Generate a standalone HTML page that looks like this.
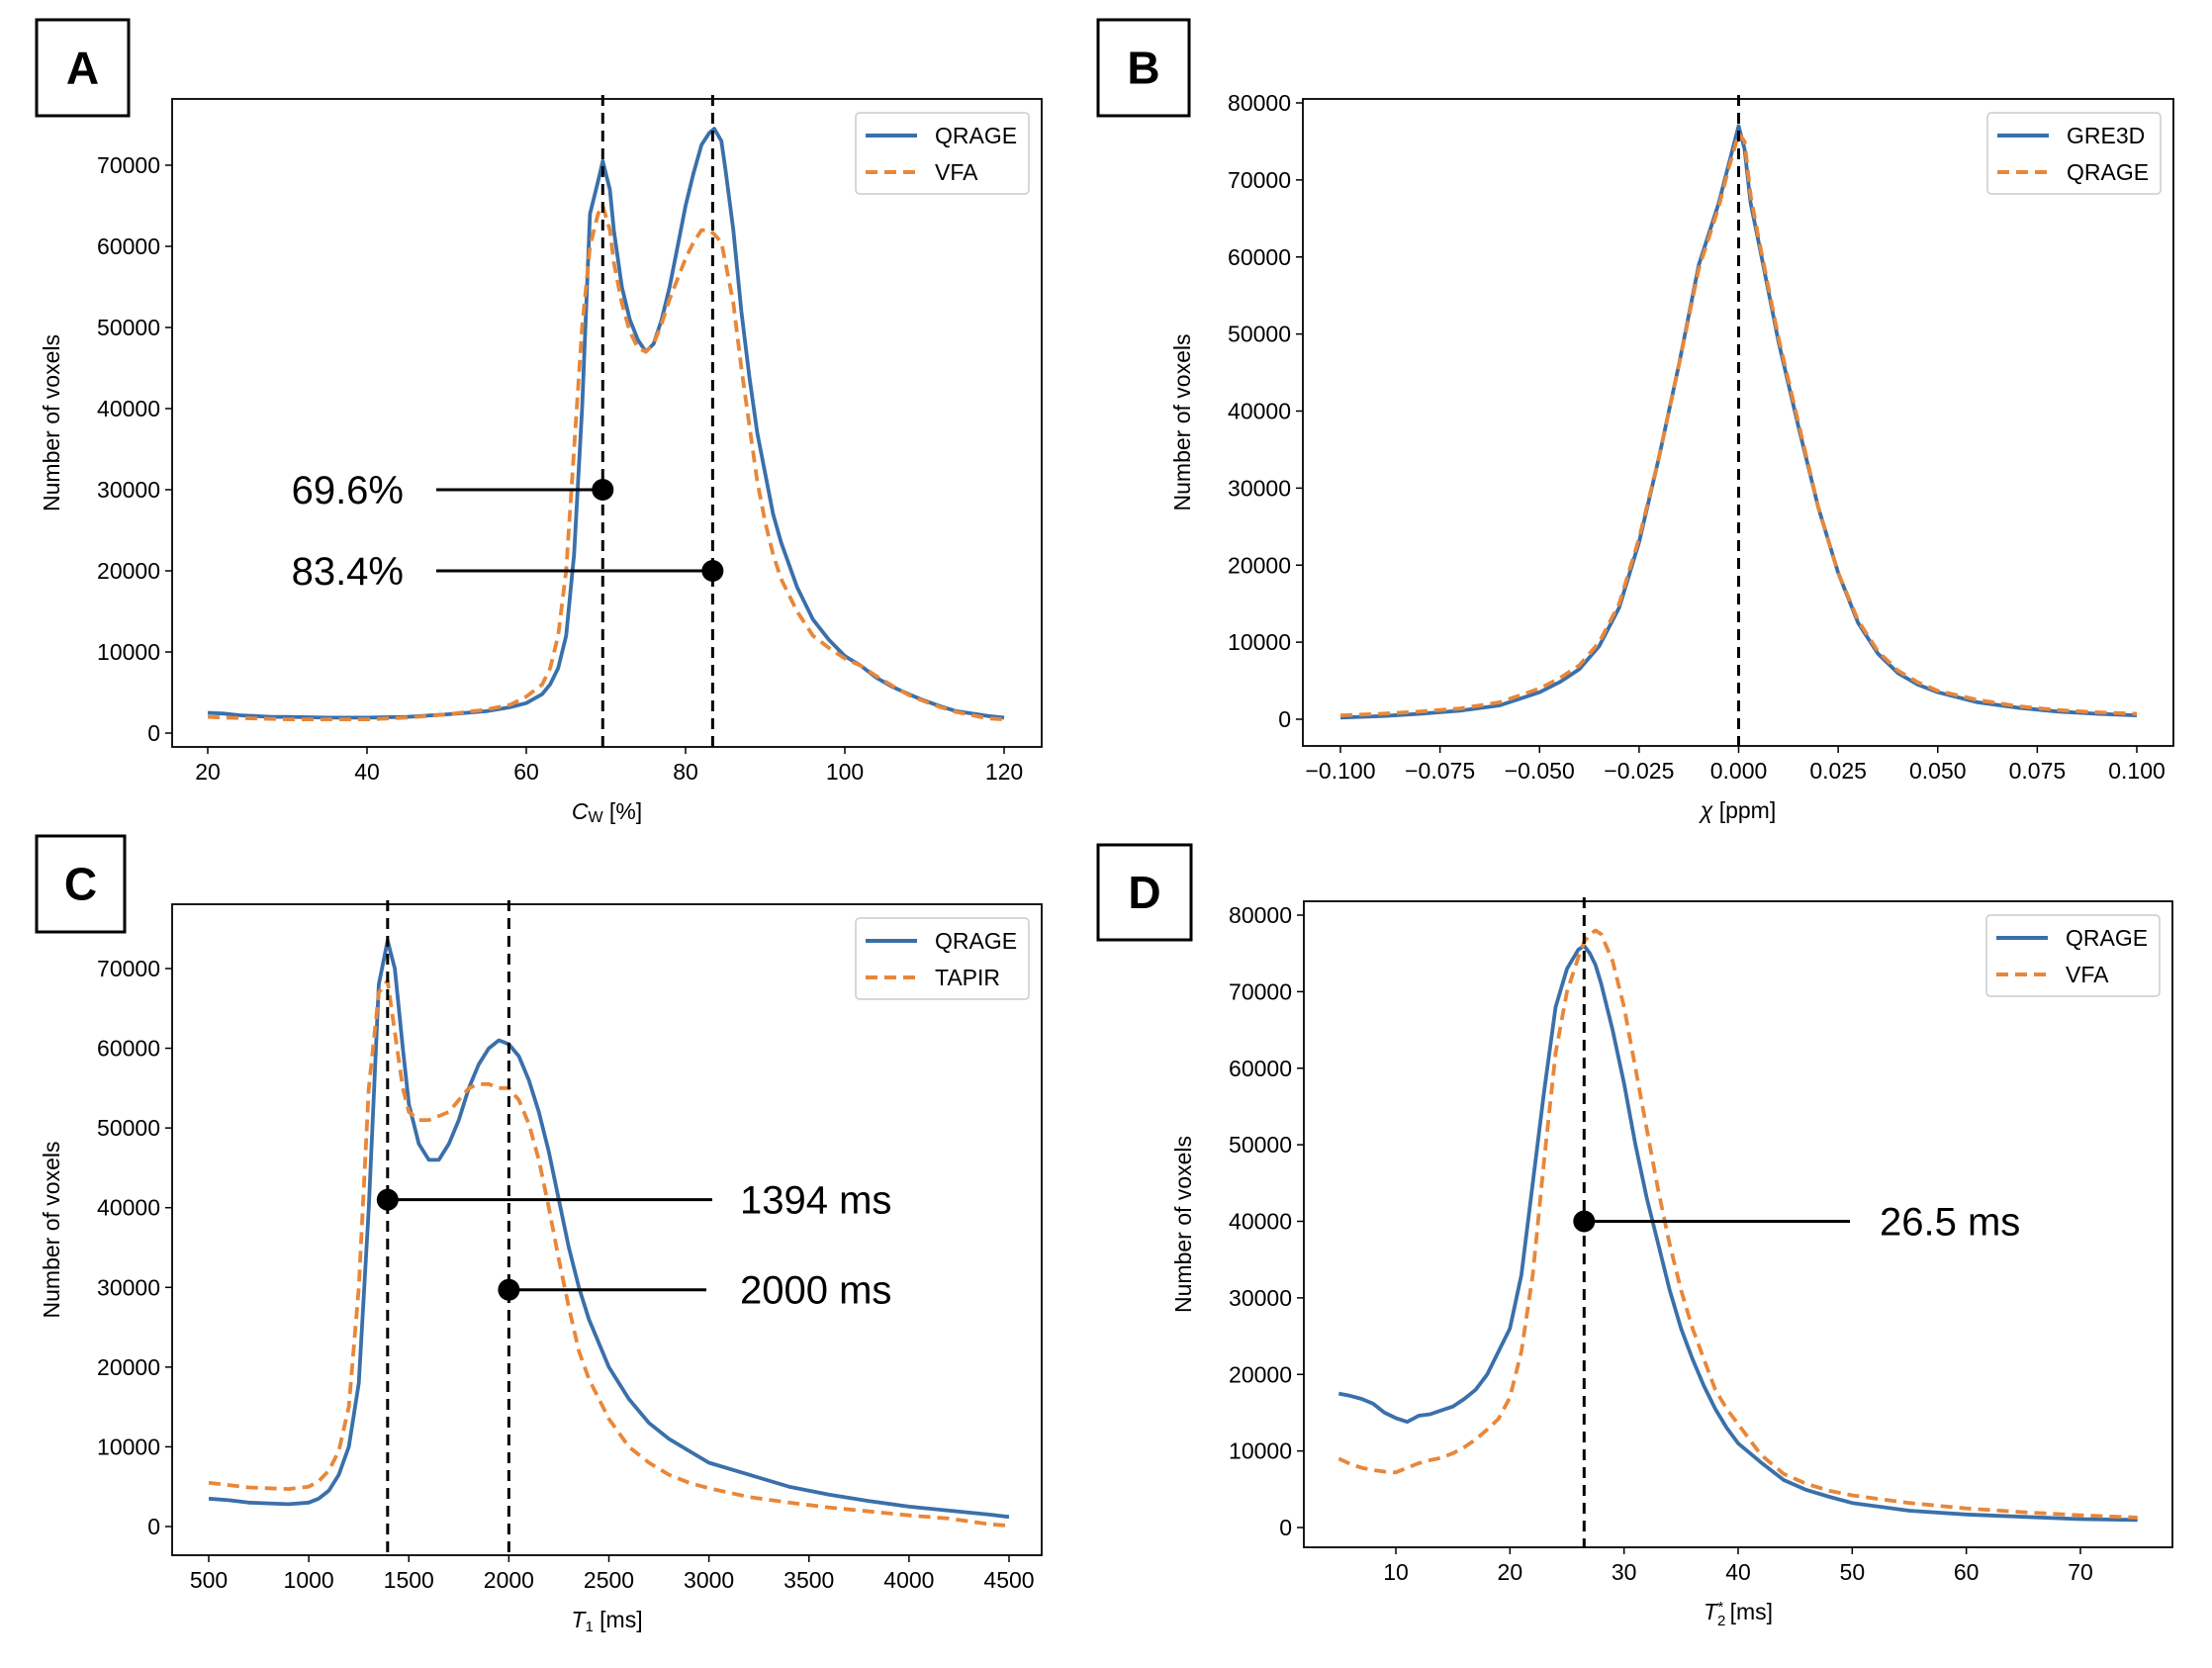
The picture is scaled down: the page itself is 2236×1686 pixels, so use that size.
<!DOCTYPE html>
<html><head><meta charset="utf-8"><style>
body{margin:0;background:#fff}
svg{display:block;font-family:"Liberation Sans",sans-serif}
</style></head><body>
<svg id="fig" width="2236" height="1686" viewBox="0 0 2236 1686" xmlns="http://www.w3.org/2000/svg"></svg>
<script>
// Panel A data
const aX=[20,22,24,26,28,30,35,40,45,50,55,58,60,62,63,64,65,66,67,68,69,69.6,70.5,71,72,73,74,75,76,77,78,79,80,81,82,83,83.6,84.5,85,86,87,88,89,90,91,92,94,96,98,100,102,104,106,108,110,112,114,116,118,120];
const aQ=[2500,2400,2200,2100,2000,2000,1900,1900,2000,2300,2700,3200,3700,4800,6000,8000,12000,22000,40000,64000,68000,70500,67000,62000,55000,51000,48500,47000,48000,51000,55000,60000,65000,69000,72500,74000,74500,73000,69500,62000,52000,44000,37000,32000,27000,23500,18000,14000,11500,9500,8300,6800,5700,4800,4000,3300,2700,2400,2100,1900];
const aV=[2000,1900,1850,1800,1750,1700,1700,1700,1900,2300,2900,3500,4500,6000,8000,12000,20000,35000,50000,60000,64000,65000,62000,58000,53000,49500,47500,47000,48000,50500,53500,56000,58500,60500,62000,62000,61500,60500,58000,53000,45000,38000,31000,26000,22000,19000,15000,12000,10500,9200,8300,7000,5800,4700,3900,3200,2600,2200,1800,1700];
// Panel B data
const bX=[-0.1,-0.09,-0.08,-0.07,-0.06,-0.05,-0.045,-0.04,-0.035,-0.03,-0.025,-0.02,-0.015,-0.01,-0.005,-0.0025,0,0.0015,0.003,0.005,0.01,0.015,0.02,0.025,0.03,0.035,0.04,0.045,0.05,0.06,0.07,0.08,0.09,0.1];
const bG=[200,400,700,1100,1800,3500,4800,6500,9500,14500,23000,34000,46000,59000,67000,72000,77000,74000,67000,62000,49000,38000,27500,19000,12500,8500,6000,4500,3500,2200,1500,1000,700,500];
const bQ=[500,700,1000,1400,2200,4000,5300,7000,10000,15000,23500,34000,46000,58500,66500,71500,76000,75000,68000,62500,49500,38500,27500,19000,12800,8800,6300,4800,3700,2500,1700,1200,900,700];
// Panel C data
const cX=[500,600,700,800,900,1000,1050,1100,1150,1200,1250,1300,1350,1394,1430,1470,1500,1550,1600,1650,1700,1750,1800,1850,1900,1950,2000,2050,2100,2150,2200,2250,2300,2350,2400,2500,2600,2700,2800,2900,3000,3200,3400,3600,3800,4000,4200,4400,4500];
const cQ=[3500,3300,3000,2900,2800,3000,3500,4500,6500,10000,18000,40000,68000,73500,70000,60000,53000,48000,46000,46000,48000,51000,55000,58000,60000,61000,60500,59000,56000,52000,47000,41000,35000,30000,26000,20000,16000,13000,11000,9500,8000,6500,5000,4000,3200,2500,2000,1500,1200];
const cT=[5500,5200,4900,4800,4700,5000,5700,7000,9500,15000,30000,55000,67000,68500,62000,55000,52000,51000,51000,51500,52000,53500,55000,55500,55500,55000,55000,53500,50500,46000,40000,33500,27500,22000,18500,13500,10000,8000,6500,5500,4800,3700,3000,2400,1900,1400,1000,300,100];
// Panel D data
const dX=[5,6,7,8,9,10,11,12,13,14,15,16,17,18,19,20,21,22,23,24,25,26,26.5,27,27.5,28,29,30,31,32,33,34,35,36,37,38,39,40,42,44,46,48,50,55,60,65,70,75];
const dQ=[17500,17200,16800,16200,15000,14300,13800,14600,14800,15300,15800,16800,18000,20000,23000,26000,33000,45000,57000,68000,73000,75500,76000,75000,73500,71000,65000,58000,50000,43000,37000,31000,26000,22000,18500,15500,13000,11000,8500,6200,4900,4000,3200,2200,1700,1400,1100,1000];
const dV=[9000,8300,7800,7500,7300,7200,7800,8400,8800,9100,9700,10500,11500,12800,14200,17000,23000,33000,48000,62000,70000,74500,76500,77500,78000,77500,74000,68000,60000,52000,44000,37000,31000,26000,22000,18000,15500,13500,9500,7000,5700,4800,4200,3200,2500,2000,1600,1300];
const aTicksX=[20,40,60,80,100,120], aTicksY=[0,10000,20000,30000,40000,50000,60000,70000];
const bTicksX=[-0.1,-0.075,-0.05,-0.025,0,0.025,0.05,0.075,0.1], bTickLbl=["\u22120.100","\u22120.075","\u22120.050","\u22120.025","0.000","0.025","0.050","0.075","0.100"];
const bTicksY=[0,10000,20000,30000,40000,50000,60000,70000,80000];
const cTicksX=[500,1000,1500,2000,2500,3000,3500,4000,4500], cTicksY=aTicksY;
const dTicksX=[10,20,30,40,50,60,70], dTicksY=bTicksY;

const NS="http://www.w3.org/2000/svg";
const svg=document.getElementById('fig');
function el(tag,attrs,parent,text){const e=document.createElementNS(NS,tag);for(const k in attrs)e.setAttribute(k,attrs[k]);if(text!==undefined)e.textContent=text;(parent||svg).appendChild(e);return e;}
const BLUE="#3a70aa",ORANGE="#e8873a";

function panel(p){
  const g=el('g',{});
  
  
  const sx=v=>p.px0+(v-p.x0)*(p.px1-p.px0)/(p.x1-p.x0);
  const sy=v=>p.py0+(v-p.y0)*(p.py1-p.py0)/(p.y1-p.y0);
  const lb=el('rect',{x:p.lb[0],y:p.lb[1],width:p.lb[2],height:p.lb[3],fill:'#fff',stroke:'#000','stroke-width':3},g);
  
  
  const lt=el('text',{x:p.lb[0]+p.lb[2]/2,y:p.lb[1]+p.lb[3]/2+16,'text-anchor':'middle','font-size':46,'font-weight':'bold'},g,p.id);
  
  
  p.tx.forEach((t,i)=>{const x=sx(t);
    el('line',{x1:x,x2:x,y1:p.box[3],y2:p.box[3]+7,stroke:'#000','stroke-width':1.5},g);
    const tl=el('text',{x:x,y:p.box[3]+33,'text-anchor':'middle','font-size':23},g,p.txl?p.txl[i]:String(t));
    
    });
  p.ty.forEach(t=>{const y=sy(t);
    el('line',{x1:p.box[0]-7,x2:p.box[0],y1:y,y2:y,stroke:'#000','stroke-width':1.5},g);
    const tl=el('text',{x:p.box[0]-12,y:y+8,'text-anchor':'end','font-size':23},g,String(t));
    
    });
  const yt=el('text',{x:0,y:0,'text-anchor':'middle','font-size':23,transform:`translate(${p.box[0]-114},${(p.box[1]+p.box[3])/2}) rotate(-90)`},g,'Number of voxels');
  
  
  const xt=el('text',{x:(p.box[0]+p.box[2])/2,y:p.box[3]+73,'text-anchor':'middle','font-size':23},g);
  xt.innerHTML=p.xlabel;
  
  
  p.series.forEach(s=>{
    const d=s.y.map((v,i)=>(i?'L':'M')+sx(s.x[i]).toFixed(1)+','+sy(v).toFixed(1)).join('');
    const pa=el('path',{d:d,fill:'none',stroke:s.c,'stroke-width':3.8,'stroke-dasharray':s.dash?'12,7':'none','stroke-linejoin':'round'},g);
    
    
  });
  p.vl.forEach(v=>{const x=sx(v);
    const l=el('line',{x1:x,x2:x,y1:p.box[1]-4,y2:p.box[3],stroke:'#000','stroke-width':3,'stroke-dasharray':'11,7'},g);
    
    });
  p.ann.forEach(a=>{const x=sx(a.v),y=sy(a.y);
    el('line',{x1:a.lx,x2:x,y1:y,y2:y,stroke:'#000','stroke-width':3},g);
    el('circle',{cx:x,cy:y,r:11,fill:'#000'},g);
    const t=el('text',{x:a.tx,y:y+14,'text-anchor':a.anchor,'font-size':40},g,a.t);
    
    });
  el('rect',{x:p.box[0],y:p.box[1],width:p.box[2]-p.box[0],height:p.box[3]-p.box[1],fill:'none',stroke:'#000','stroke-width':1.8},g);
  const lx=p.box[2]-188,ly=p.box[1]+14;
  const lg=el('g',{},g);
  
  
  el('rect',{x:lx,y:ly,width:175,height:82,rx:4,fill:'#fff',stroke:'#ccc','stroke-width':1.5},lg);
  p.series.forEach((s,i)=>{const yy=ly+23+i*37;
    el('line',{x1:lx+10,x2:lx+62,y1:yy,y2:yy,stroke:s.c,'stroke-width':4,'stroke-dasharray':s.dash?'12,7':'none'},lg);
    const t=el('text',{x:lx+80,y:yy+8,'font-size':23},lg,s.n);
    
    });
}

panel({id:'A',box:[174,100,1053,755],lb:[37,20,93,97],x0:20,x1:120,px0:210,px1:1015,y0:0,y1:70000,py0:741,py1:167,
  tx:aTicksX,ty:aTicksY,xlabel:'<tspan font-style="italic">C</tspan><tspan font-size="16" dy="3">W</tspan><tspan dy="-3"> [%]</tspan>',
  series:[{x:aX,y:aQ,c:BLUE,n:'QRAGE'},{x:aX,y:aV,c:ORANGE,dash:1,n:'VFA'}],
  vl:[69.6,83.4],ann:[{v:69.6,y:30000,lx:441,tx:408,anchor:'end',t:'69.6%'},{v:83.4,y:20000,lx:441,tx:408,anchor:'end',t:'83.4%'}]});
panel({id:'B',box:[1317,100,2197,754],lb:[1110,20,92,97],x0:-0.1,x1:0.1,px0:1355,px1:2160,y0:0,y1:80000,py0:727,py1:104,
  tx:bTicksX,txl:bTickLbl,ty:bTicksY,xlabel:'<tspan font-style="italic">χ</tspan> [ppm]',
  series:[{x:bX,y:bG,c:BLUE,n:'GRE3D'},{x:bX,y:bQ,c:ORANGE,dash:1,n:'QRAGE'}],vl:[0],ann:[]});
panel({id:'C',box:[174,914,1053,1572],lb:[37,845,89,97],x0:500,x1:4500,px0:211,px1:1020,y0:0,y1:70000,py0:1543,py1:979,
  tx:cTicksX,ty:cTicksY,xlabel:'<tspan font-style="italic">T</tspan><tspan font-size="15" dy="4">1</tspan><tspan dy="-4"> [ms]</tspan>',
  series:[{x:cX,y:cQ,c:BLUE,n:'QRAGE'},{x:cX,y:cT,c:ORANGE,dash:1,n:'TAPIR'}],
  vl:[1394,2000],ann:[{v:1394,y:41000,lx:720,tx:748,anchor:'start',t:'1394 ms'},{v:2000,y:29700,lx:714,tx:748,anchor:'start',t:'2000 ms'}]});
panel({id:'D',box:[1318,911,2196,1564],lb:[1110,854,94,96],x0:10,x1:70,px0:1411,px1:2103,y0:0,y1:80000,py0:1544,py1:925,
  tx:dTicksX,ty:dTicksY,xlabel:'<tspan font-style="italic">T</tspan><tspan font-size="15" dy="6">2</tspan><tspan font-size="15" dx="-8" dy="-14">*</tspan><tspan dy="8"> [ms]</tspan>',
  series:[{x:dX,y:dQ,c:BLUE,n:'QRAGE'},{x:dX,y:dV,c:ORANGE,dash:1,n:'VFA'}],
  vl:[26.5],ann:[{v:26.5,y:40000,lx:1870,tx:1900,anchor:'start',t:'26.5 ms'}]});
</script>
</body></html>
